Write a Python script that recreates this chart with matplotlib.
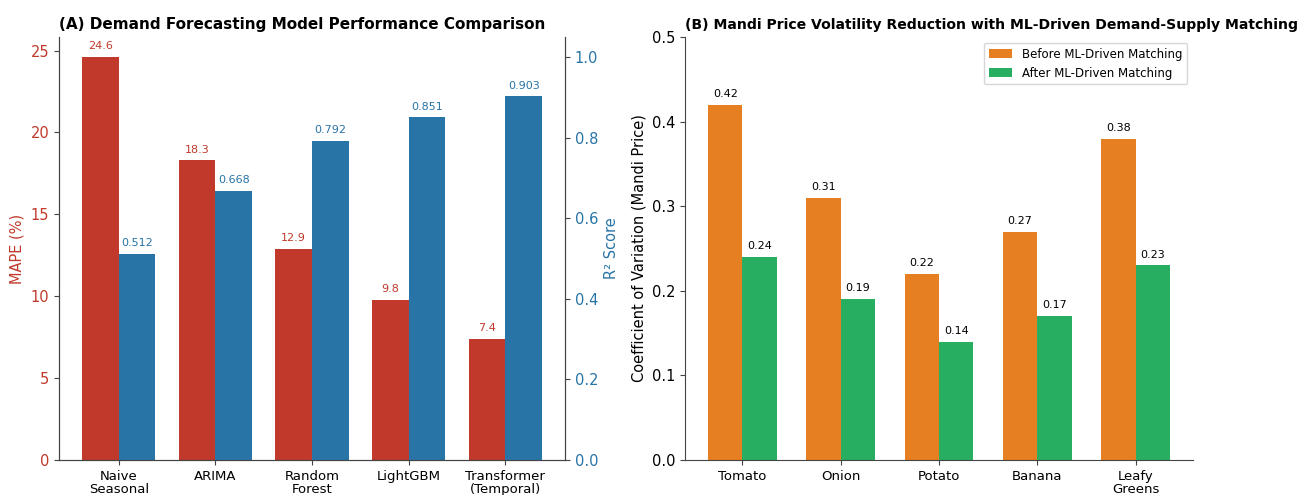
import numpy as np
import matplotlib
matplotlib.use('Agg')
import matplotlib.pyplot as plt

# forecasting models
models = ['Naive\nSeasonal', 'ARIMA', 'Random\nForest', 'LightGBM', 'Transformer\n(Temporal)']
mape = [24.6, 18.3, 12.9, 9.8, 7.4]
r2 = [0.512, 0.668, 0.792, 0.851, 0.903]

# mandi price volatility
crops = ['Tomato', 'Onion', 'Potato', 'Banana', 'Leafy\nGreens']
cv_before = [0.42, 0.31, 0.22, 0.27, 0.38]
cv_after = [0.24, 0.19, 0.14, 0.17, 0.23]

red = '#c0392b'
blue = '#2874a6'
orange = '#e67e22'
green = '#27ae60'

plt.rcParams['axes.edgecolor'] = '#444444'
plt.rcParams['xtick.color'] = '#444444'
plt.rcParams['ytick.color'] = '#444444'
plt.rcParams['xtick.labelcolor'] = 'black'
plt.rcParams['ytick.labelcolor'] = 'black'

fig = plt.figure(figsize=(13.11, 4.95), dpi=100)
ax1 = fig.add_axes([0.045, 0.0707, 0.386, 0.8545])
ax3 = fig.add_axes([0.5225, 0.0707, 0.3875, 0.8545])

# (A) MAPE vs R2, two y axes
x = np.arange(len(models))
w = 0.38
ax2 = ax1.twinx()
ax1.bar(x - w / 2, mape, w, color=red)
ax2.bar(x + w / 2, r2, w, color=blue)
ax1.set_ylim(0, max(mape) * 1.05)
ax2.set_ylim(0, 1.05)
ax1.set_xticks(x)
ax1.set_xticklabels(models, fontsize=9.5, linespacing=1.05)
ax1.set_ylabel('MAPE (%)', color=red, fontsize=10.5)
ax2.set_ylabel('R² Score', color=blue, fontsize=10.5)
ax1.tick_params(axis='y', labelcolor=red, labelsize=10.5)
ax2.tick_params(axis='y', labelcolor=blue, labelsize=10.5)
for xi, v in zip(x, mape):
    ax1.text(xi - w / 2, v + 0.35, f'{v}', ha='center', va='bottom', fontsize=8, color=red)
for xi, v in zip(x, r2):
    ax2.text(xi + w / 2, v + 0.014, f'{v:.3f}', ha='center', va='bottom', fontsize=8, color=blue)
ax1.spines['top'].set_visible(False)
ax2.spines['top'].set_visible(False)
ax1.set_title('(A) Demand Forecasting Model Performance Comparison',
              fontsize=11, fontweight='bold', loc='left')

# (B) before / after matching
x = np.arange(len(crops))
w = 0.35
ax3.bar(x - w / 2, cv_before, w, color=orange, label='Before ML-Driven Matching')
ax3.bar(x + w / 2, cv_after, w, color=green, label='After ML-Driven Matching')
for xi, v in zip(x, cv_before):
    ax3.text(xi - w / 2, v + 0.007, f'{v:.2f}', ha='center', va='bottom', fontsize=8)
for xi, v in zip(x, cv_after):
    ax3.text(xi + w / 2, v + 0.007, f'{v:.2f}', ha='center', va='bottom', fontsize=8)
ax3.set_ylim(0, 0.5)
ax3.set_xticks(x)
ax3.set_xticklabels(crops, fontsize=9.5, linespacing=1.05)
ax3.tick_params(axis='y', labelsize=10.5)
ax3.set_ylabel('Coefficient of Variation (Mandi Price)', fontsize=10.5)
ax3.spines['top'].set_visible(False)
ax3.spines['right'].set_visible(False)
ax3.legend(loc='upper right', fontsize=8.5)
ax3.set_title('(B) Mandi Price Volatility Reduction with ML-Driven Demand-Supply Matching',
              fontsize=10.1, fontweight='bold', loc='left')

fig.savefig('out.png', dpi=100)
